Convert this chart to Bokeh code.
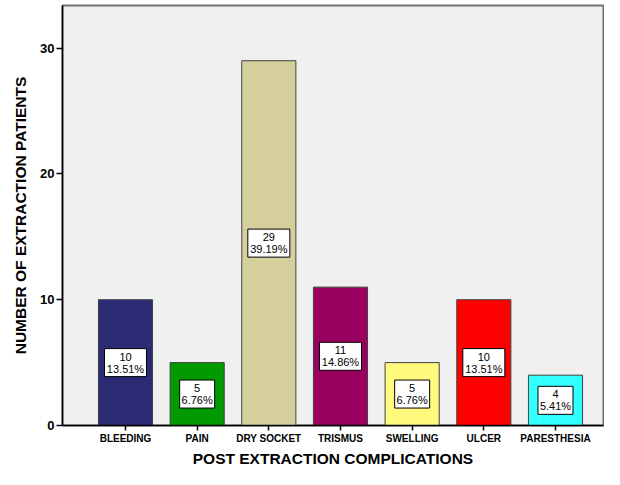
from bokeh.plotting import figure
from bokeh.models import ColumnDataSource, Range1d, FixedTicker
from bokeh.embed import file_html
from bokeh.resources import INLINE
from bokeh.core.properties import value

categories = ["BLEEDING", "PAIN", "DRY SOCKET", "TRISMUS", "SWELLING", "ULCER", "PARESTHESIA"]
counts = [10, 5, 29, 11, 5, 10, 4]
percents = ["13.51%", "6.76%", "39.19%", "14.86%", "6.76%", "13.51%", "5.41%"]
colors = ["#2B2A74", "#009A00", "#D5CF9B", "#99005F", "#FFFA7D", "#FF0000", "#33FFFF"]
y_ticks = [0, 10, 20, 30]

xs = list(range(len(categories)))
src = ColumnDataSource(dict(
    x=xs, top=counts, color=colors,
    mid=[c / 2 for c in counts],
    cnt=[str(c) for c in counts],
    pct=percents,
    bw=[7 * len(p) for p in percents],
))

FONT = "Liberation Sans"

p = figure(width=604, height=469, output_backend="svg", toolbar_location=None,
           x_range=Range1d(-0.879, 6.67), y_range=Range1d(0, 33.39),
           min_border_left=62, min_border_right=1, min_border_top=5, min_border_bottom=42)
p.background_fill_color = "#F0F0F0"
p.border_fill_color = "white"
p.outline_line_color = "#707070"
p.outline_line_width = 2
p.grid.visible = False

p.vbar(x="x", top="top", bottom=0, width=0.755, fill_color="color",
       line_color="#404040", line_width=1, source=src)

p.rect(x="x", y="mid", width="bw", height=28, width_units="screen", height_units="screen",
       fill_color="white", line_color="black", line_width=1, source=src)
p.text(x="x", y="mid", text="cnt", y_offset=-6, text_align="center", text_baseline="middle",
       text_font=value(FONT), text_font_size="11px", text_color="black", source=src)
p.text(x="x", y="mid", text="pct", y_offset=6, text_align="center", text_baseline="middle",
       text_font=value(FONT), text_font_size="11px", text_color="black", source=src)

p.xaxis.ticker = FixedTicker(ticks=xs)
p.xaxis.major_label_overrides = {i: c for i, c in enumerate(categories)}
p.yaxis.ticker = FixedTicker(ticks=y_ticks)

for ax in (p.xaxis, p.yaxis):
    ax.axis_line_color = "black"
    ax.axis_line_width = 1.5
    ax.major_tick_line_color = "black"
    ax.major_tick_line_width = 1.5
    ax.major_tick_out = 6
    ax.major_tick_in = 0
    ax.minor_tick_line_color = None
    ax.major_label_text_font = FONT
    ax.major_label_text_font_style = "bold"
    ax.major_label_text_color = "black"
    ax.axis_label_text_font = FONT
    ax.axis_label_text_font_style = "bold"
    ax.axis_label_text_font_size = "15.5px"
    ax.axis_label_text_color = "black"

p.xaxis.major_label_text_font_size = "10px"
p.yaxis.major_label_text_font_size = "13px"
p.xaxis.major_tick_out = 5
p.xaxis.major_label_standoff = 2
p.yaxis.major_label_standoff = 2
p.xaxis.axis_label = "POST EXTRACTION COMPLICATIONS"
p.yaxis.axis_label = "NUMBER OF EXTRACTION PATIENTS"
p.xaxis.axis_label_standoff = 3
p.yaxis.axis_label_standoff = 8

open("out.html", "w").write(file_html(p, INLINE))
